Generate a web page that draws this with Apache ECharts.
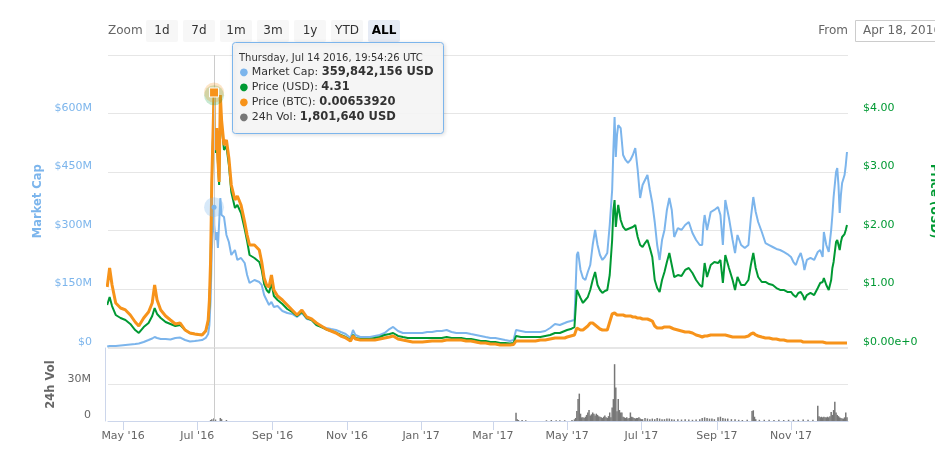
<!DOCTYPE html>
<html><head><meta charset="utf-8">
<script src="https://cdn.jsdelivr.net/npm/echarts@6/dist/echarts.min.js"></script>
<style>html,body{margin:0;padding:0;background:#fff;}#c{width:935px;height:453px;}</style>
</head><body><div id="c"></div>
<script>
const dates = ['2016-04-18','2016-04-20','2016-04-22','2016-04-25','2016-04-29','2016-05-03','2016-05-07','2016-05-11','2016-05-14','2016-05-18',
'2016-05-22','2016-05-25','2016-05-27','2016-05-29','2016-06-01','2016-06-05','2016-06-09','2016-06-13','2016-06-17','2016-06-21',
'2016-06-25','2016-06-29','2016-07-02','2016-07-05','2016-07-08','2016-07-10','2016-07-11','2016-07-12','2016-07-13','2016-07-14T19:54:26',
'2016-07-15','2016-07-16','2016-07-17','2016-07-18','2016-07-19','2016-07-20','2016-07-21','2016-07-23','2016-07-25','2016-07-27',
'2016-07-29','2016-08-01','2016-08-03','2016-08-06','2016-08-09','2016-08-11','2016-08-13','2016-08-17','2016-08-21','2016-08-23',
'2016-08-25','2016-08-27','2016-08-29','2016-08-31','2016-09-02','2016-09-05','2016-09-09','2016-09-13','2016-09-17','2016-09-21',
'2016-09-25','2016-09-29','2016-10-03','2016-10-07','2016-10-11','2016-10-15','2016-10-19','2016-10-23','2016-10-27','2016-10-31',
'2016-11-04','2016-11-06','2016-11-08','2016-11-12','2016-11-16','2016-11-20','2016-11-24','2016-11-28','2016-12-02','2016-12-06',
'2016-12-09','2016-12-13','2016-12-17','2016-12-21','2016-12-25','2016-12-29','2017-01-02','2017-01-06','2017-01-10','2017-01-14',
'2017-01-18','2017-01-22','2017-01-26','2017-01-30','2017-02-03','2017-02-07','2017-02-11','2017-02-15','2017-02-19','2017-02-23',
'2017-02-27','2017-03-03','2017-03-07','2017-03-11','2017-03-15','2017-03-18','2017-03-20','2017-03-24','2017-03-28','2017-04-01',
'2017-04-05','2017-04-09','2017-04-13','2017-04-17','2017-04-21','2017-04-25','2017-04-29','2017-05-01','2017-05-04','2017-05-07',
'2017-05-09','2017-05-10','2017-05-12','2017-05-14','2017-05-16','2017-05-18','2017-05-20','2017-05-22','2017-05-24','2017-05-26',
'2017-05-28','2017-05-30','2017-06-01','2017-06-03','2017-06-05','2017-06-07','2017-06-08','2017-06-09','2017-06-10','2017-06-11',
'2017-06-12','2017-06-14','2017-06-16','2017-06-18','2017-06-20','2017-06-22','2017-06-24','2017-06-26','2017-06-28','2017-06-30',
'2017-07-02','2017-07-04','2017-07-06','2017-07-08','2017-07-10','2017-07-12','2017-07-14','2017-07-16','2017-07-18','2017-07-20',
'2017-07-22','2017-07-24','2017-07-26','2017-07-28','2017-07-31','2017-08-03','2017-08-06','2017-08-09','2017-08-12','2017-08-15',
'2017-08-18','2017-08-20','2017-08-21','2017-08-22','2017-08-24','2017-08-27','2017-08-30','2017-09-02','2017-09-04','2017-09-06',
'2017-09-08','2017-09-11','2017-09-14','2017-09-16','2017-09-18','2017-09-21','2017-09-24','2017-09-27','2017-09-29','2017-10-01',
'2017-10-03','2017-10-05','2017-10-08','2017-10-11','2017-10-14','2017-10-17','2017-10-20','2017-10-23','2017-10-26','2017-10-29',
'2017-11-01','2017-11-03','2017-11-05','2017-11-07','2017-11-09','2017-11-11','2017-11-12','2017-11-14','2017-11-17','2017-11-20',
'2017-11-23','2017-11-25','2017-11-27','2017-11-28','2017-11-30','2017-12-02','2017-12-04','2017-12-05','2017-12-06','2017-12-08',
'2017-12-09','2017-12-10','2017-12-11','2017-12-12','2017-12-13','2017-12-14','2017-12-15','2017-12-16','2017-12-17'];

// Market Cap in millions of USD
const marketCapM = [2.6,3.8,3.8,3.8,5.1,6.4,7.7,9.0,10.3,14.1,
19.2,23.1,26.9,24.4,21.8,21.8,20.5,24.4,25.6,19.2,
15.4,16.7,17.9,19.2,24.4,34.6,57.7,121.8,250.0,359.842156,
314.1,275.6,296.1,255.1,250.0,383.3,339.7,334.6,288.5,270.5,
237.2,250.0,224.4,229.5,216.7,185.9,165.4,173.1,167.9,160.3,
134.6,121.8,109.0,116.7,103.8,106.4,93.6,88.5,85.9,78.2,
88.5,73.1,70.5,57.7,53.8,50.0,47.4,44.9,39.7,34.6,
24.4,44.9,32.1,26.9,26.9,26.9,29.5,32.1,37.2,47.4,
52.6,42.3,37.2,37.2,37.2,37.2,37.2,39.7,39.7,42.3,
42.3,44.9,39.7,37.2,37.2,37.2,34.6,32.1,29.5,26.9,
24.4,24.4,21.8,19.2,16.7,19.2,44.9,42.3,39.7,39.7,
39.7,39.7,42.3,50.0,60.3,57.7,62.8,65.4,67.9,70.5,
237.2,244.9,198.7,178.2,173.1,193.6,211.5,262.8,301.3,262.8,
237.2,224.4,232.0,242.3,314.1,403.8,506.4,591.0,488.4,544.9,
570.5,562.8,493.6,480.8,473.1,480.8,493.6,511.5,455.1,383.3,
416.7,429.5,442.3,403.8,370.5,321.8,262.8,224.4,275.6,301.3,
352.6,383.3,352.6,283.3,306.4,301.3,314.1,321.8,293.6,275.6,
262.8,262.8,314.1,339.7,301.3,347.4,352.6,360.2,339.7,262.8,
378.2,332.0,275.6,242.3,288.5,262.8,255.1,262.8,332.0,385.9,
347.4,321.8,296.1,267.9,262.8,257.7,252.6,250.0,244.9,239.7,
232.0,219.2,211.5,229.5,242.3,219.2,198.7,224.4,229.5,224.4,
244.9,250.0,232.0,296.1,262.8,244.9,301.3,339.7,385.9,450.0,
460.2,416.7,344.9,391.0,421.8,421.8,442.3,467.9,501.3];

const priceUSD = [0.726,0.863,0.709,0.556,0.504,0.470,0.402,0.299,0.248,0.350,
0.419,0.538,0.675,0.573,0.504,0.436,0.402,0.368,0.385,0.299,
0.248,0.231,0.222,0.214,0.282,0.436,0.726,1.410,2.812,4.31,
3.581,3.325,3.684,3.154,2.778,4.231,3.803,3.376,3.444,3.120,
2.658,2.385,2.436,2.299,2.026,1.821,1.581,1.530,1.462,1.325,
1.085,0.983,0.932,1.103,0.880,0.812,0.744,0.658,0.607,0.538,
0.607,0.504,0.470,0.385,0.350,0.308,0.282,0.256,0.214,0.179,
0.128,0.214,0.162,0.145,0.145,0.145,0.162,0.179,0.214,0.231,
0.248,0.197,0.179,0.162,0.162,0.162,0.162,0.162,0.162,0.162,
0.162,0.179,0.162,0.162,0.162,0.145,0.145,0.128,0.111,0.111,
0.094,0.094,0.077,0.077,0.068,0.077,0.197,0.179,0.179,0.179,
0.179,0.179,0.197,0.214,0.248,0.248,0.282,0.299,0.316,0.350,
0.983,1.017,0.846,0.761,0.812,0.863,0.983,1.154,1.291,1.068,
0.983,0.932,0.966,0.983,1.239,1.838,2.350,2.521,2.060,2.265,
2.436,2.179,2.060,2.009,2.026,2.043,2.060,2.094,1.889,1.752,
1.718,1.786,1.838,1.701,1.547,1.154,1.017,0.949,1.154,1.291,
1.462,1.615,1.410,1.205,1.239,1.222,1.325,1.359,1.274,1.154,
1.068,1.034,1.239,1.444,1.205,1.410,1.462,1.444,1.496,1.103,
1.581,1.359,1.154,0.983,1.205,1.068,1.068,1.154,1.410,1.615,
1.359,1.205,1.120,1.120,1.085,1.068,1.017,0.983,0.983,0.949,
0.949,0.897,0.863,0.932,0.949,0.880,0.812,0.897,0.932,0.897,
1.017,1.103,1.120,1.188,1.068,0.983,1.154,1.359,1.462,1.803,
1.838,1.752,1.667,1.803,1.889,1.872,1.940,2.009,2.094];

const priceBTC = [0.001551,0.002038,0.001603,0.001141,0.001013,0.000962,0.000833,0.000654,0.000551,0.000756,
0.000910,0.001141,0.001603,0.001218,0.000962,0.000808,0.000705,0.000603,0.000628,0.000449,
0.000372,0.000346,0.000333,0.000321,0.000423,0.000705,0.001218,0.002244,0.004295,0.0065392,
0.005449,0.005064,0.005628,0.004808,0.004243,0.006474,0.005833,0.005192,0.005320,0.004859,
0.004167,0.003782,0.003884,0.003654,0.003218,0.002885,0.002628,0.002628,0.002500,0.002192,
0.001782,0.001603,0.001551,0.001859,0.001474,0.001320,0.001218,0.001090,0.000962,0.000833,
0.000962,0.000782,0.000731,0.000628,0.000551,0.000474,0.000423,0.000372,0.000295,0.000244,
0.000167,0.000295,0.000218,0.000192,0.000192,0.000192,0.000192,0.000218,0.000244,0.000269,
0.000295,0.000218,0.000192,0.000167,0.000141,0.000141,0.000141,0.000154,0.000167,0.000167,
0.000167,0.000192,0.000192,0.000192,0.000192,0.000167,0.000167,0.000141,0.000115,0.000115,
0.000090,0.000090,0.000064,0.000064,0.000064,0.000077,0.000167,0.000167,0.000167,0.000167,
0.000167,0.000192,0.000192,0.000218,0.000244,0.000244,0.000244,0.000269,0.000295,0.000321,
0.000500,0.000526,0.000449,0.000449,0.000500,0.000551,0.000628,0.000628,0.000577,0.000526,
0.000474,0.000449,0.000449,0.000449,0.000654,0.000859,0.000885,0.000885,0.000859,0.000833,
0.000833,0.000833,0.000833,0.000808,0.000808,0.000808,0.000782,0.000782,0.000756,0.000756,
0.000731,0.000731,0.000731,0.000705,0.000679,0.000551,0.000500,0.000500,0.000500,0.000526,
0.000526,0.000526,0.000500,0.000474,0.000449,0.000423,0.000397,0.000397,0.000372,0.000321,
0.000295,0.000269,0.000269,0.000295,0.000295,0.000321,0.000321,0.000321,0.000321,0.000321,
0.000321,0.000295,0.000269,0.000269,0.000269,0.000269,0.000269,0.000295,0.000346,0.000372,
0.000321,0.000295,0.000269,0.000244,0.000244,0.000218,0.000218,0.000192,0.000192,0.000167,
0.000167,0.000167,0.000167,0.000167,0.000167,0.000141,0.000141,0.000141,0.000141,0.000141,
0.000141,0.000141,0.000141,0.000115,0.000115,0.000115,0.000115,0.000115,0.000115,0.000115,
0.000115,0.000115,0.000115,0.000115,0.000115,0.000115,0.000115,0.000115,0.000115];

const volDates = ['2016-07-12','2016-07-13','2016-07-14T19:54:26','2016-07-15','2016-07-16','2016-07-20','2016-07-21','2016-07-25',
'2017-03-20','2017-03-21','2017-03-22','2017-03-25','2017-03-28','2017-04-14','2017-04-18','2017-04-22','2017-04-25','2017-04-29',
'2017-05-05','2017-05-07','2017-05-08','2017-05-09','2017-05-10','2017-05-11','2017-05-12','2017-05-13','2017-05-14','2017-05-15',
'2017-05-16','2017-05-17','2017-05-18','2017-05-19','2017-05-20','2017-05-21','2017-05-22','2017-05-23','2017-05-24','2017-05-25',
'2017-05-26','2017-05-27','2017-05-28','2017-05-29','2017-05-30','2017-05-31','2017-06-01','2017-06-02','2017-06-03','2017-06-04',
'2017-06-05','2017-06-06','2017-06-07','2017-06-08','2017-06-09','2017-06-10','2017-06-11','2017-06-12','2017-06-13','2017-06-14',
'2017-06-15','2017-06-16','2017-06-17','2017-06-18','2017-06-19','2017-06-20','2017-06-21','2017-06-22','2017-06-23','2017-06-24',
'2017-06-25','2017-06-26','2017-06-27','2017-06-28','2017-06-29','2017-06-30','2017-07-01','2017-07-02','2017-07-04','2017-07-06',
'2017-07-08','2017-07-10','2017-07-12','2017-07-14','2017-07-16','2017-07-18','2017-07-20','2017-07-22','2017-07-24','2017-07-26',
'2017-07-28','2017-07-31','2017-08-03','2017-08-06','2017-08-09','2017-08-12','2017-08-15','2017-08-18','2017-08-20','2017-08-22',
'2017-08-24','2017-08-26','2017-08-28','2017-08-30','2017-09-02','2017-09-04','2017-09-06','2017-09-08','2017-09-10','2017-09-13',
'2017-09-16','2017-09-19','2017-09-22','2017-09-26','2017-09-30','2017-10-01','2017-10-02','2017-10-03','2017-10-06','2017-10-10',
'2017-10-14','2017-10-18','2017-10-22','2017-10-26','2017-10-30','2017-11-03','2017-11-07','2017-11-11','2017-11-15','2017-11-19',
'2017-11-23','2017-11-24','2017-11-25','2017-11-26','2017-11-27','2017-11-28','2017-11-29','2017-11-30','2017-12-01','2017-12-02',
'2017-12-03','2017-12-04','2017-12-05','2017-12-06','2017-12-07','2017-12-08','2017-12-09','2017-12-10','2017-12-11','2017-12-12',
'2017-12-13','2017-12-14','2017-12-15','2017-12-16','2017-12-17'];
// 24h volume in millions of USD
const volM = [0.8,1.5,1.80164,2.5,1.2,2.5,1.5,0.8,
6.7,1.5,0.8,0.8,0.6,0.6,0.8,0.6,0.7,0.6,
0.8,1.4,2.5,8.3,18,22.5,6,3,3,2.5,
3.5,5,7,9,4.5,5.5,7,6,4.5,6,
5,4,3.5,3,2.5,3.5,4.5,3,2.5,4,
7,3,11,18,46.7,27.5,8,18,9,7,
7,3.5,3,2.5,3,2,2.5,7,3.5,3,
2.5,2,2.5,2.5,3,2,1.5,1.5,2.5,2,
1.5,2,1.5,2.5,2,1.5,1.5,2,2,1.5,
1.2,1.5,1.2,1.5,1.2,1.0,1.2,1.5,2.5,3,
2.5,2,2,1.5,3,3.5,2.5,2,2,1.5,
1.5,1.0,0.8,1.0,8.3,8.8,3.5,1.5,1.0,1.0,
1.0,0.8,1.0,0.8,1.0,1.0,1.0,1.2,1.0,1.0,
12.5,4,3,3.5,3,3.5,3,3,3.5,3,
4,7.5,5,9,15.8,7,5,4,3,2.5,
2,2,3,7,3];

const xTickDates = ['2016-05-01','2016-07-01','2016-09-01','2016-11-01','2017-01-01','2017-03-01','2017-05-01','2017-07-01','2017-09-01','2017-11-01'];
const monthNames = ['Jan','Feb','Mar','Apr','May','Jun','Jul','Aug','Sep','Oct','Nov','Dec'];
const zoomButtons = ['1d','7d','1m','3m','1y','YTD','ALL'];
const hover = {date:'2016-07-14T19:54:26', header:'Thursday, Jul 14 2016, 19:54:26 UTC',
  mcText:'359,842,156 USD', usdText:'4.31', btcText:'0.00653920', volText:'1,801,640 USD'};

const toTs = s => s.length > 10 ? Date.parse(s + 'Z') : Date.parse(s + 'T00:00:00Z');
const FONT = 'DejaVu Sans';
const BLUE = '#7cb5ec', GREEN = '#009933', ORANGE = '#f7931a', GREY = '#777777';
const xMin = Date.UTC(2016, 3, 18, 16, 0), xMax = Date.UTC(2017, 11, 17, 20, 0);
const tickTs = xTickDates.map(toTs);
const hoverTs = toTs(hover.date);
const hi = dates.indexOf(hover.date);
const mk = arr => dates.map((d, i) => [toTs(d), arr[i]]);

const chart = echarts.init(document.getElementById('c'), null, {renderer: 'canvas'});

const graphics = [];
graphics.push({type:'text', x:108, y:31, style:{text:'Zoom', fill:'#666', font:'12px "DejaVu Sans"', verticalAlign:'middle'}});
zoomButtons.forEach((b, i) => {
  const x = 146 + i * 37, sel = b === 'ALL';
  graphics.push({type:'rect', shape:{x:x, y:20, width:32, height:22, r:2}, style:{fill: sel ? '#e6ebf5' : '#f7f7f7'}});
  graphics.push({type:'text', x:x + 16, y:31, style:{text:b, fill: sel ? '#000' : '#333', font:(sel ? 'bold ' : '') + '12px "DejaVu Sans"', align:'center', verticalAlign:'middle'}});
});
graphics.push({type:'text', x:848, y:31, style:{text:'From', fill:'#666', font:'12px "DejaVu Sans"', align:'right', verticalAlign:'middle'}});
graphics.push({type:'rect', shape:{x:855.5, y:20.5, width:100, height:21}, style:{fill:'#fff', stroke:'#cccccc', lineWidth:1}});
graphics.push({type:'text', x:863, y:31, style:{text:'Apr 18, 2016', fill:'#666', font:'12px "DejaVu Sans"', verticalAlign:'middle'}});
graphics.push({type:'rect', z:100, shape:{x:232.5, y:42.5, width:211, height:91, r:3},
  style:{fill:'rgba(247,247,247,0.9)', stroke:BLUE, lineWidth:1, shadowBlur:4, shadowColor:'rgba(0,0,0,0.15)', shadowOffsetX:1, shadowOffsetY:1}});
graphics.push({type:'text', z:101, x:239, y:58, style:{text:hover.header, fill:'#333', font:'10px "DejaVu Sans"', verticalAlign:'middle'}});
const ttLines = [[BLUE,'Market Cap: ',hover.mcText],[GREEN,'Price (USD): ',hover.usdText],[ORANGE,'Price (BTC): ',hover.btcText],[GREY,'24h Vol: ',hover.volText]];
ttLines.forEach((l, i) => {
  graphics.push({type:'text', z:101, x:239.5, y:72.5 + i * 15, style:{
    text:'{b|●} ' + l[1] + '{v|' + l[2] + '}', fill:'#333', font:'11px "DejaVu Sans"', verticalAlign:'middle',
    rich:{b:{fill:l[0], font:'10px "DejaVu Sans"'}, v:{fill:'#333', font:'bold 11.5px "DejaVu Sans"'}}}});
});

const lblFont = {fontFamily: FONT, fontSize: 11};
const fmtDate = v => { const d = new Date(v); return monthNames[d.getUTCMonth()] + " '" + String(d.getUTCFullYear()).slice(2); };
const option = {
  animation: false,
  textStyle: {fontFamily: FONT},
  grid: [
    {left:108, right:87, top:55, height:292.5, containLabel:false, outerBoundsMode:'none'},
    {left:108, right:87, top:348, height:73, containLabel:false, outerBoundsMode:'none'}
  ],
  xAxis: [
    {type:'value', gridIndex:0, min:xMin, max:xMax, axisLine:{show:false}, axisTick:{show:false}, axisLabel:{show:false}, splitLine:{show:false}},
    {type:'value', gridIndex:1, min:xMin, max:xMax,
      axisLine:{show:true, lineStyle:{color:'#ccd6eb', width:1}},
      axisTick:{show:true, customValues:tickTs, length:9, lineStyle:{color:'#ccd6eb'}},
      axisLabel:{show:true, customValues:tickTs, color:'#666', margin:10, ...lblFont, formatter: fmtDate},
      splitLine:{show:false}}
  ],
  yAxis: [
    {type:'value', gridIndex:0, position:'left', min:0, max:750, interval:150,
      axisLine:{show:false}, axisTick:{show:false},
      splitLine:{show:true, lineStyle:{color:'#e6e6e6'}},
      axisLabel:{color:BLUE, margin:16, verticalAlign:'bottom', ...lblFont,
        formatter: v => v === 0 ? '$0' : (v === 750 ? '' : '$' + v + 'M')},
      name:'Market Cap', nameLocation:'middle', nameGap:62, nameRotate:90,
      nameTextStyle:{color:BLUE, fontSize:11.5, fontWeight:'bold', fontFamily:FONT}},
    {type:'value', gridIndex:0, position:'right', min:0, max:5, interval:1,
      axisLine:{show:false}, axisTick:{show:false}, splitLine:{show:false},
      axisLabel:{color:GREEN, margin:15, verticalAlign:'bottom', ...lblFont,
        formatter: v => v === 0 ? '$0.00e+0' : (v === 5 ? '' : '$' + v.toFixed(2))},
      name:'Price (USD)', nameLocation:'middle', nameGap:80, nameRotate:-90,
      nameTextStyle:{color:GREEN, fontSize:11.5, fontWeight:'bold', fontFamily:FONT}},
    {type:'value', gridIndex:0, min:0, max:0.0075, show:false},
    {type:'value', gridIndex:1, position:'left', min:0, max:60, interval:30, offset:3,
      axisLine:{show:true, lineStyle:{color:'#ccd6eb'}}, axisTick:{show:false},
      splitLine:{show:true, lineStyle:{color:'#e6e6e6'}},
      axisLabel:{color:'#666', margin:14, verticalAlign:'bottom', ...lblFont,
        formatter: v => v === 0 ? '0' : (v === 30 ? '30M' : '')},
      name:'24h Vol', nameLocation:'middle', nameGap:44, nameRotate:90,
      nameTextStyle:{color:'#666', fontSize:11.5, fontWeight:'bold', fontFamily:FONT}}
  ],
  series: [
    {name:'Market Cap', type:'line', xAxisIndex:0, yAxisIndex:0, data:mk(marketCapM), showSymbol:false, symbol:'none',
      lineStyle:{color:BLUE, width:2}, itemStyle:{color:BLUE}, z:2,
      markLine:{silent:true, symbol:'none', label:{show:false}, lineStyle:{color:'#cccccc', width:1, type:'solid'}, data:[{xAxis:hoverTs}]},
      markPoint:{silent:true, label:{show:false}, data:[
        {coord:[hoverTs, marketCapM[hi]], symbol:'circle', symbolSize:20, itemStyle:{color:'rgba(124,181,236,0.3)'}},
        {coord:[hoverTs, marketCapM[hi]], symbol:'circle', symbolSize:5, itemStyle:{color:BLUE}}]}},
    {name:'Price (USD)', type:'line', xAxisIndex:0, yAxisIndex:1, data:mk(priceUSD), showSymbol:false, symbol:'none',
      lineStyle:{color:GREEN, width:2}, itemStyle:{color:GREEN}, z:3,
      markPoint:{silent:true, label:{show:false}, data:[
        {coord:[hoverTs, priceUSD[hi]], symbol:'circle', symbolSize:20, itemStyle:{color:'rgba(0,153,51,0.22)'}}]}},
    {name:'Price (BTC)', type:'line', xAxisIndex:0, yAxisIndex:2, data:mk(priceBTC), showSymbol:false, symbol:'none',
      lineStyle:{color:ORANGE, width:3}, itemStyle:{color:ORANGE}, z:4,
      markPoint:{silent:true, label:{show:false}, data:[
        {coord:[hoverTs, priceBTC[hi]], symbol:'circle', symbolSize:20, itemStyle:{color:'rgba(247,147,26,0.25)'}},
        {coord:[hoverTs, priceBTC[hi]], symbol:'rect', symbolSize:9, itemStyle:{color:ORANGE, borderColor:'#fff', borderWidth:1}}]}},
    {name:'24h Vol', type:'bar', xAxisIndex:1, yAxisIndex:3, data:volDates.map((d, i) => [toTs(d), volM[i]]),
      barWidth:1.5, itemStyle:{color:GREY}, z:2,
      markLine:{silent:true, symbol:'none', label:{show:false}, lineStyle:{color:'#cccccc', width:1, type:'solid'}, data:[{xAxis:hoverTs}]}}
  ],
  graphic: graphics
};
chart.setOption(option);
</script></body></html>
